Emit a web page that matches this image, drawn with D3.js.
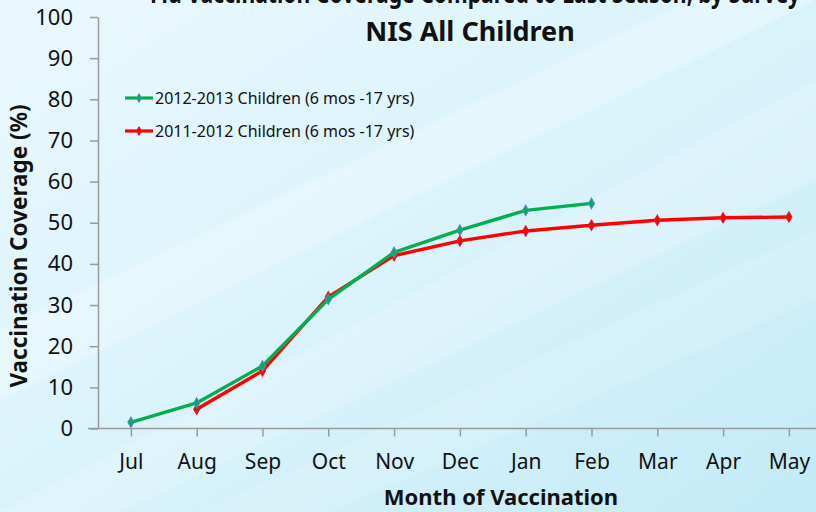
<!DOCTYPE html>
<html>
<head>
<meta charset="utf-8">
<script src="https://cdn.jsdelivr.net/npm/d3@7"></script>
<style>
  body { margin: 0; }
  svg { display: block; }
  text { font-family: "Noto Sans", "Open Sans", sans-serif; fill: #111; }
</style>
</head>
<body>
<script>
// data
var months = ["Jul", "Aug", "Sep", "Oct", "Nov", "Dec", "Jan", "Feb", "Mar", "Apr", "May"];
var season1213 = [1.5, 6.2, 15.2, 31.4, 42.8, 48.2, 53.0, 54.7];
var season1112 = [null, 4.7, 14.0, 32.0, 42.0, 45.6, 48.0, 49.4, 50.6, 51.2, 51.4];
var seriesNames = ["2012-2013 Children (6 mos -17 yrs)", "2011-2012 Children (6 mos -17 yrs)"];
var yTicks = [0, 10, 20, 30, 40, 50, 60, 70, 80, 90, 100];

var width = 816, height = 512;

var svg = d3.select("body").append("svg")
    .attr("width", width)
    .attr("height", height);

// background
var defs = svg.append("defs");
var bg = defs.append("linearGradient").attr("id", "bg")
    .attr("x1", "0").attr("y1", "0").attr("x2", "1").attr("y2", "1");
bg.append("stop").attr("offset", "0").attr("stop-color", "#eaf8fd");
bg.append("stop").attr("offset", "0.5").attr("stop-color", "#daf3fb");
bg.append("stop").attr("offset", "1").attr("stop-color", "#c3eaf7");

svg.append("rect").attr("width", width).attr("height", height).attr("fill", "url(#bg)");

// soft diagonal streaks
var streaks = [
    "M0,330 L816,-60 L816,0 L0,400 Z",
    "M0,512 L816,80 L816,180 L120,512 Z",
    "M200,512 L816,230 L816,300 L330,512 Z"
];
svg.selectAll("path.streak")
    .data(streaks)
    .enter().append("path")
    .attr("class", "streak")
    .attr("d", d => d)
    .attr("fill", "#ffffff")
    .attr("opacity", (d, i) => [0.25, 0.18, 0.12][i]);

var x = d3.scalePoint()
    .domain(months)
    .range([98, 98 + 11 * 65.8])
    .padding(0.5);

var y = d3.scaleLinear()
    .domain([0, 100])
    .range([428.5, 17]);

// titles (first line is cropped by the top edge in the reference)
svg.append("text")
    .attr("x", 475).attr("y", 3)
    .attr("text-anchor", "middle")
    .attr("textLength", 650)
    .attr("lengthAdjust", "spacingAndGlyphs")
    .style("font-size", "27px").style("font-weight", "bold")
    .text("Flu Vaccination Coverage Compared to Last Season, by Survey");
svg.append("text")
    .attr("x", 470).attr("y", 41)
    .attr("text-anchor", "middle")
    .style("font-size", "27px").style("font-weight", "bold")
    .text("NIS All Children");

// axes
var yAxis = svg.append("g")
    .attr("transform", "translate(98,0)")
    .call(d3.axisLeft(y).tickValues(yTicks).tickSize(8).tickSizeOuter(0).tickPadding(17));

var xAxis = svg.append("g")
    .attr("transform", "translate(0,428.5)")
    .call(d3.axisBottom(x).tickSize(8).tickSizeOuter(0).tickPadding(18));

svg.selectAll(".domain, .tick line").attr("stroke", "#9a9a9a").attr("stroke-width", 1.5);
xAxis.select(".domain").attr("d", "M88,0H816");
yAxis.selectAll("text").style("font-size", "22px").attr("fill", "#111");
xAxis.selectAll("text").style("font-size", "21px").attr("fill", "#111");

svg.append("text")
    .attr("transform", "translate(27,246) rotate(-90)")
    .attr("text-anchor", "middle")
    .style("font-size", "22.5px").style("font-weight", "bold")
    .text("Vaccination Coverage (%)");

svg.append("text")
    .attr("x", 501).attr("y", 505)
    .attr("text-anchor", "middle")
    .style("font-size", "22px").style("font-weight", "bold")
    .text("Month of Vaccination");

// series
var series = [
    { name: seriesNames[1], values: season1112, color: "#ff0000", marker: "#e8141e" },
    { name: seriesNames[0], values: season1213, color: "#00b050", marker: "#4a8cc0" }
];

var line = d3.line()
    .x(d => x(d.m))
    .y(d => y(d.v));

var diamond = d3.symbol().type(d3.symbolDiamond).size(30);

series.forEach(function(s) {
    var pts = s.values.map((v, i) => ({ m: months[i], v: v })).filter(d => d.v != null);
    svg.append("path")
        .datum(pts)
        .attr("fill", "none")
        .attr("stroke", s.color)
        .attr("stroke-width", 3.4)
        .attr("stroke-linejoin", "round")
        .attr("d", line);
    svg.append("g").selectAll("path")
        .data(pts)
        .enter().append("path")
        .attr("transform", d => "translate(" + x(d.m) + "," + y(d.v) + ")")
        .attr("d", diamond)
        .attr("fill", s.color)
        .attr("stroke", s.marker)
        .attr("stroke-width", 1.2);
});

// legend
var legend = svg.append("g").attr("transform", "translate(125,98)");
[series[1], series[0]].forEach(function(s, i) {
    var row = legend.append("g").attr("transform", "translate(0," + (i * 33) + ")");
    row.append("line")
        .attr("x1", 0).attr("x2", 28)
        .attr("stroke", s.color).attr("stroke-width", 3.2);
    row.append("path")
        .attr("transform", "translate(14,0)")
        .attr("d", d3.symbol().type(d3.symbolDiamond).size(22))
        .attr("fill", s.color)
        .attr("stroke", s.marker);
    row.append("text")
        .attr("x", 30).attr("y", 5.5)
        .style("font-size", "16px")
        .text(s.name);
});
</script>
</body>
</html>
